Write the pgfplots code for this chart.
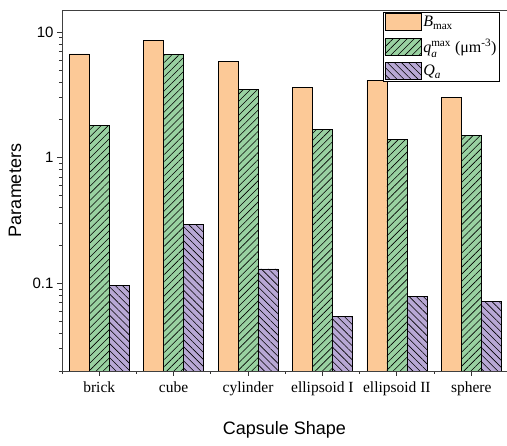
\documentclass[border=0pt]{standalone}
\usepackage{amsmath}
\usepackage{fontspec}
\setmainfont{Liberation Serif}
\newfontfamily\sansf{Liberation Sans}
\usepackage{pgfplots}
\pgfplotsset{compat=1.18}
\usetikzlibrary{patterns.meta}

\definecolor{cB}{RGB}{252,201,151}
\definecolor{cq}{RGB}{153,209,161}
\definecolor{cQ}{RGB}{184,168,213}

\pgfplotsset{
  mylegend/.style={legend image code/.code={\draw[##1] (0pt,-8.5pt) rectangle (36pt,8.5pt);}},
}

\begin{document}
\begin{tikzpicture}
\begin{axis}[
  scale only axis, width=445pt, height=361pt,
  ymode=log, ymin=0.02, ymax=15, log origin=infty,
  log ticks with fixed point,
  /pgf/number format/assume math mode=true,
  xmin=0.5, xmax=6.48,
  axis y line*=left,
  axis line style={black!75, line width=0.8pt},
  ybar=0pt, bar width=20pt,
  xtick={1,2,3,4,5,6},
  xticklabels={brick,cube,cylinder,ellipsoid I,ellipsoid II,sphere},
  minor xtick={0.5,1.5,2.5,3.5,4.5,5.5},
  xtick pos=bottom, ytick pos=left, tick align=outside,
  major tick length=5pt, minor tick length=3pt,
  every tick/.style={black!80, line width=0.8pt},
  xticklabel style={font=\fontsize{15.5}{16}\selectfont, yshift=-2pt},
  yticklabel style={font=\sansf\fontsize{15}{16}\selectfont},
  ylabel={\sansf\fontsize{18}{20}\selectfont Parameters},
  ylabel style={at={(axis description cs:-0.1056,0.5)}, anchor=center},
  xlabel={\sansf\fontsize{18}{20}\selectfont Capsule Shape},
  xlabel style={at={(axis description cs:0.5,-0.1634)}, anchor=center},
  legend style={at={(0.984,0.994)}, anchor=north east, draw=black, line width=0.6pt,
    font=\fontsize{16}{18}\selectfont, row sep=6pt, inner sep=1pt, fill=white},
  legend cell align=left,
]
\addplot[fill=cB, draw=black, line width=0.7pt, mylegend]
  coordinates {(1,6.7) (2,8.6) (3,5.8) (4,3.6) (5,4.14) (6,3.03)};
\addplot[fill=cq, draw=black, line width=0.7pt, mylegend,
  postaction={pattern={Lines[angle=45,distance=5pt,line width=0.6pt]}}]
  coordinates {(1,1.82) (2,6.6) (3,3.5) (4,1.69) (5,1.40) (6,1.51)};
\addplot[fill=cQ, draw=black, line width=0.7pt, mylegend,
  postaction={pattern={Lines[angle=-45,distance=5pt,line width=0.6pt]}}]
  coordinates {(1,0.096) (2,0.295) (3,0.13) (4,0.054) (5,0.079) (6,0.072)};
\legend{\textit{B}\textsubscript{max},
  $\textit{q}_{\textit{a}}^{\textrm{max}}$ (μm\textsuperscript{-3}),
  \textit{Q}\textsubscript{\textit{a}}}
\end{axis}
\pgfresetboundingbox
\path[use as bounding box] (-62pt,-75pt) rectangle (445pt,371pt);
\end{tikzpicture}
\end{document}
